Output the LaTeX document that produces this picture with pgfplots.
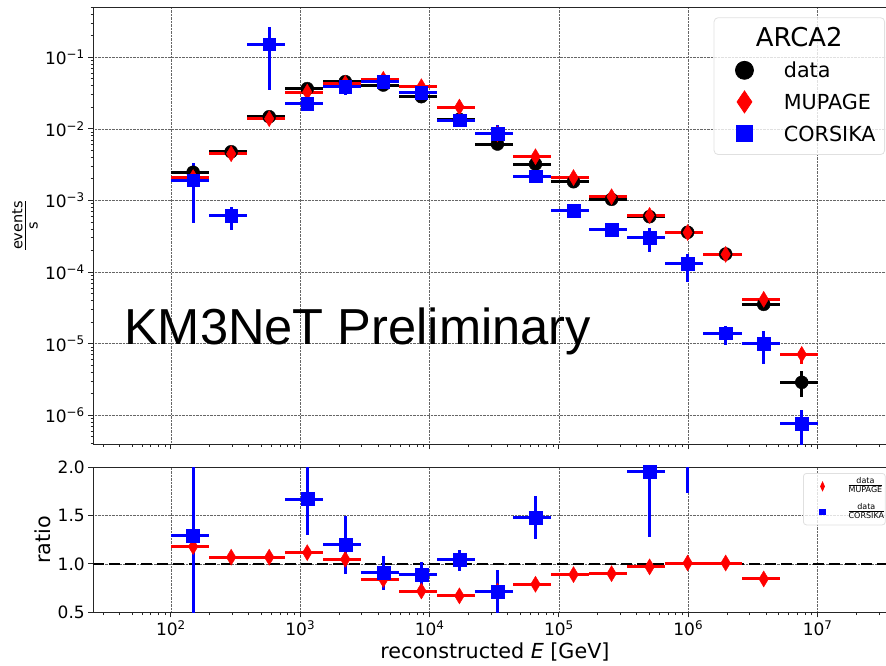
\documentclass[border=0pt]{standalone}
\usepackage{amsmath}
\usepackage{fontspec}
\setmainfont{DejaVu Sans}
\newfontfamily\arialfont{Liberation Sans}
\usepackage{pgfplots}
\pgfplotsset{compat=1.18}
\usepackage{pgfplotstable}

% x = bin centre, xe = half bin width, y, y error plus, y error minus
\pgfplotstableread{
x xe y yep yem
148.42 48.42 2.48e-3 0.07e-3 0.07e-3
292.15 95.31 4.8e-3 0.12e-3 0.12e-3
575.07 187.61 1.48e-2 0.03e-2 0.03e-2
1131.98 369.30 3.65e-2 0.06e-2 0.06e-2
2228.2 726.93 4.57e-2 0.07e-2 0.07e-2
4386.0 1430.9 4.1e-2 0.07e-2 0.07e-2
8633.5 2816.6 2.82e-2 0.05e-2 0.05e-2
16994.4 5544.2 1.36e-2 0.03e-2 0.03e-2
33452 10913 6.15e-3 0.15e-3 0.15e-3
65848 21482 3.23e-3 0.1e-3 0.1e-3
129616 42286 1.83e-3 0.06e-3 0.06e-3
255137 83236 1.04e-3 0.04e-3 0.04e-3
502212 163842 5.95e-4 0.3e-4 0.3e-4
988563 322512 3.6e-4 0.2e-4 0.2e-4
1945880 634820 1.79e-4 0.12e-4 0.12e-4
3830310 1249580 3.55e-5 0.4e-5 0.4e-5
7539710 2459770 2.89e-6 1.3e-6 1.1e-6
}\datatab

\pgfplotstableread{
x xe y yep yem
148.42 48.42 2.09e-3 0.04e-3 0.04e-3
292.15 95.31 4.5e-3 0.08e-3 0.08e-3
575.07 187.61 1.39e-2 0.02e-2 0.02e-2
1131.98 369.30 3.27e-2 0.05e-2 0.05e-2
2228.2 726.93 4.33e-2 0.06e-2 0.06e-2
4386.0 1430.9 4.93e-2 0.07e-2 0.07e-2
8633.5 2816.6 3.89e-2 0.06e-2 0.06e-2
16994.4 5544.2 2.02e-2 0.04e-2 0.04e-2
33452 10913 8.5e-3 0.2e-3 0.2e-3
65848 21482 4.09e-3 0.1e-3 0.1e-3
129616 42286 2.09e-3 0.06e-3 0.06e-3
255137 83236 1.13e-3 0.04e-3 0.04e-3
502212 163842 6.2e-4 0.25e-4 0.25e-4
988563 322512 3.57e-4 0.2e-4 0.2e-4
1945880 634820 1.77e-4 0.12e-4 0.12e-4
3830310 1249580 4.17e-5 0.35e-5 0.35e-5
7539710 2459770 7.1e-6 1.7e-6 1.9e-6
}\mupagetab

\pgfplotstableread{
x xe y yep yem
148.42 48.42 1.93e-3 1.37e-3 1.44e-3
292.15 95.31 6.1e-4 2.1e-4 2.2e-4
575.07 187.61 0.152 0.111 0.117
1131.98 369.30 2.23e-2 0.44e-2 0.39e-2
2228.2 726.93 3.89e-2 1.1e-2 0.95e-2
4386.0 1430.9 4.57e-2 0.87e-2 0.87e-2
8633.5 2816.6 3.18e-2 0.47e-2 0.47e-2
16994.4 5544.2 1.33e-2 0.14e-2 0.14e-2
33452 10913 8.6e-3 2.7e-3 1.6e-3
65848 21482 2.2e-3 0.33e-3 0.33e-3
129616 42286 7.2e-4 0.7e-4 0.7e-4
255137 83236 3.9e-4 0.8e-4 0.8e-4
502212 163842 3.05e-4 1.15e-4 1.15e-4
988563 322512 1.3e-4 0.5e-4 0.58e-4
1945880 634820 1.4e-5 0.37e-5 0.45e-5
3830310 1249580 1.01e-5 0.5e-5 0.49e-5
7539710 2459770 7.6e-7 4.4e-7 7.0e-7
}\corsikatab

\pgfplotstableread{
x xe y yep yem
148.42 48.42 1.18 0.02 0.02
292.15 95.31 1.07 0.02 0.02
575.07 187.61 1.07 0.02 0.02
1131.98 369.30 1.117 0.02 0.02
2228.2 726.93 1.048 0.02 0.02
4386.0 1430.9 0.84 0.02 0.02
8633.5 2816.6 0.72 0.02 0.02
16994.4 5544.2 0.67 0.02 0.02
33452 10913 0.72 0.02 0.02
65848 21482 0.79 0.02 0.02
129616 42286 0.89 0.02 0.02
255137 83236 0.90 0.02 0.02
502212 163842 0.97 0.03 0.03
988563 322512 1.01 0.03 0.03
1945880 634820 1.01 0.03 0.03
3830310 1249580 0.845 0.04 0.04
7539710 2459770 0.41 0.05 0.05
}\rmupagetab

\pgfplotstableread{
x xe y yep yem
148.42 48.42 1.29 1.0 0.9
1131.98 369.30 1.672 0.5 0.37
2228.2 726.93 1.20 0.30 0.30
4386.0 1430.9 0.91 0.17 0.18
8633.5 2816.6 0.886 0.134 0.13
16994.4 5544.2 1.048 0.10 0.12
33452 10913 0.713 0.22 0.3
65848 21482 1.483 0.217 0.228
502212 163842 1.955 0.5 0.68
988563 322512 2.77 1.0 1.04
}\rcorsikatab

\begin{document}
\begin{tikzpicture}[x=1pt,y=1pt]
\useasboundingbox (0,0) rectangle (886,665);

\begin{axis}[at={(93.3pt,221pt)}, anchor=south west,
  scale only axis, width=793.7pt, height=437pt,
  xmode=log, xmin=25.1, xmax=3.44e7,
  ymode=log, ymin=3.98e-7, ymax=0.504,
  axis line style={black!85, line width=1pt},
  tick style={black!85, line width=1pt},
  major tick length=5pt, minor tick length=2.8pt,
  tick align=outside, xtick pos=left, ytick pos=left,
  grid=major, grid style={densely dotted, black!60, line width=0.7pt},
  tick label style={font=\fontsize{17}{20}\selectfont},
  xtick={1e2,1e3,1e4,1e5,1e6,1e7},
  minor xtick={30,40,50,60,70,80,90,200,300,400,500,600,700,800,900,2000,3000,4000,5000,6000,7000,8000,9000,2e4,3e4,4e4,5e4,6e4,7e4,8e4,9e4,2e5,3e5,4e5,5e5,6e5,7e5,8e5,9e5,2e6,3e6,4e6,5e6,6e6,7e6,8e6,9e6,2e7,3e7},
  ytick={1e-6,1e-5,1e-4,1e-3,1e-2,1e-1},
  yticklabels={10\textsuperscript{−6},10\textsuperscript{−5},10\textsuperscript{−4},10\textsuperscript{−3},10\textsuperscript{−2},10\textsuperscript{−1}},
  minor ytick={4e-7,5e-7,6e-7,7e-7,8e-7,9e-7,2e-6,3e-6,4e-6,5e-6,6e-6,7e-6,8e-6,9e-6,2e-5,3e-5,4e-5,5e-5,6e-5,7e-5,8e-5,9e-5,2e-4,3e-4,4e-4,5e-4,6e-4,7e-4,8e-4,9e-4,2e-3,3e-3,4e-3,5e-3,6e-3,7e-3,8e-3,9e-3,2e-2,3e-2,4e-2,5e-2,6e-2,7e-2,8e-2,9e-2,0.2,0.3,0.4,0.5},
  xticklabels={},
  ylabel={$\frac{\text{events}}{\text{s}}$},
  every axis y label/.style={at={(rel axis cs:-0.0861,0.5)},rotate=90,anchor=center,font=\fontsize{20.7}{24}\selectfont},
  legend style={at={(0.9975,0.9764)}, anchor=north east,
    draw=black!12, line width=0.8pt, rounded corners=4pt,
    fill=white, fill opacity=0.8, text opacity=1,
    font=\fontsize{20.7}{24}\selectfont,
    inner xsep=9pt, inner ysep=8.5pt, row sep=6.6pt,
    nodes={inner sep=0pt, text height=20pt, text depth=5pt}},
  legend cell align=left,
  legend image code/.code={\path (-21pt,0pt) (39pt,0pt); \draw[#1, fill opacity=1, draw opacity=1] plot coordinates {(0pt,0pt)};},
]
\addplot[black, only marks, mark=*, mark size=6.5pt, forget plot,
  error bars/.cd, x dir=both, x explicit, y dir=both, y explicit, error mark=none,
  error bar style={line width=3pt, solid}]
  table[x=x, y=y, x error=xe, y error plus=yep, y error minus=yem] \datatab;
\addplot[red, only marks, mark=diamond*, mark size=8pt, mark options={xscale=0.8}, forget plot,
  error bars/.cd, x dir=both, x explicit, y dir=both, y explicit, error mark=none,
  error bar style={line width=3pt, solid}]
  table[x=x, y=y, x error=xe, y error plus=yep, y error minus=yem] \mupagetab;
\addplot[blue, only marks, mark=square*, mark size=6.3pt, forget plot,
  error bars/.cd, x dir=both, x explicit, y dir=both, y explicit, error mark=none,
  error bar style={line width=3pt, solid}]
  table[x=x, y=y, x error=xe, y error plus=yep, y error minus=yem] \corsikatab;
\addlegendimage{draw=none}
\addlegendentry{\hspace*{-28pt}\fontsize{25.9}{30}\selectfont ARCA2}
\addlegendimage{only marks, black, mark=*, mark size=9pt}
\addlegendentry{data}
\addlegendimage{only marks, red, mark=diamond*, mark size=11pt, mark options={xscale=0.9}}
\addlegendentry{MUPAGE}
\addlegendimage{only marks, blue, mark=square*, mark size=8.3pt}
\addlegendentry{CORSIKA}
\end{axis}

\begin{axis}[at={(93.3pt,52.7pt)}, anchor=south west,
  scale only axis, width=793.7pt, height=145pt,
  xmode=log, xmin=25.1, xmax=3.44e7,
  ymin=0.5, ymax=2.0,
  axis line style={black!85, line width=1pt},
  tick style={black!85, line width=1pt},
  major tick length=5pt, minor tick length=2.8pt,
  tick align=outside, xtick pos=left, ytick pos=left,
  grid=major, grid style={densely dotted, black!60, line width=0.7pt},
  tick label style={font=\fontsize{17}{20}\selectfont},
  xtick={1e2,1e3,1e4,1e5,1e6,1e7},
  minor xtick={30,40,50,60,70,80,90,200,300,400,500,600,700,800,900,2000,3000,4000,5000,6000,7000,8000,9000,2e4,3e4,4e4,5e4,6e4,7e4,8e4,9e4,2e5,3e5,4e5,5e5,6e5,7e5,8e5,9e5,2e6,3e6,4e6,5e6,6e6,7e6,8e6,9e6,2e7,3e7},
  ytick={0.5,1.0,1.5,2.0},
  yticklabels={0.5,1.0,1.5,2.0},
  xticklabels={10\textsuperscript{2},10\textsuperscript{3},10\textsuperscript{4},10\textsuperscript{5},10\textsuperscript{6},10\textsuperscript{7}},
  xlabel={reconstructed \textit{E} [GeV]},
  ylabel={ratio},
  every axis x label/.style={at={(rel axis cs:0.506,0)},anchor=base,yshift=-45.7pt,font=\fontsize{20.7}{24}\selectfont},
  every axis y label/.style={at={(rel axis cs:-0.0634,0.5)},rotate=90,anchor=center,font=\fontsize{20.7}{24}\selectfont},
  legend style={at={(0.8942,0.9607)}, anchor=north west,
    draw=black!12, line width=0.8pt, rounded corners=3pt,
    fill=white, fill opacity=0.8, text opacity=1,
    font=\fontsize{12}{14}\selectfont,
    inner xsep=0pt, inner ysep=3.5pt, row sep=6.5pt,
    nodes={inner sep=0pt, text height=11.5pt, text depth=7.5pt}},
  legend cell align=left,
  legend image code/.code={\path (-18.7pt,0pt) (24.5pt,0pt); \draw[#1, fill opacity=1, draw opacity=1] plot coordinates {(0pt,0pt)};},
]
\addplot[black, line width=2.6pt, dash pattern=on 11pt off 5pt, forget plot]
  coordinates {(25.1,1) (3.44e7,1)};
\addplot[red, only marks, mark=diamond*, mark size=8pt, mark options={xscale=0.8}, forget plot,
  error bars/.cd, x dir=both, x explicit, y dir=both, y explicit, error mark=none,
  error bar style={line width=3pt, solid}]
  table[x=x, y=y, x error=xe, y error plus=yep, y error minus=yem] \rmupagetab;
\addplot[blue, only marks, mark=square*, mark size=6.5pt, forget plot,
  error bars/.cd, x dir=both, x explicit, y dir=both, y explicit, error mark=none,
  error bar style={line width=3pt, solid}]
  table[x=x, y=y, x error=xe, y error plus=yep, y error minus=yem] \rcorsikatab;
\addlegendimage{only marks, red, mark=diamond*, mark size=4.35pt, mark options={xscale=0.6}}
\addlegendentry{$\frac{\text{data}}{\text{MUPAGE}}$}
\addlegendimage{only marks, blue, mark=square*, mark size=2.65pt}
\addlegendentry{$\frac{\text{data}}{\text{CORSIKA}}$}
\end{axis}

\node[anchor=base west, inner sep=0pt, font=\arialfont\fontsize{50.6}{60}\selectfont] at (124,321) {KM3NeT Preliminary};
\end{tikzpicture}
\end{document}
